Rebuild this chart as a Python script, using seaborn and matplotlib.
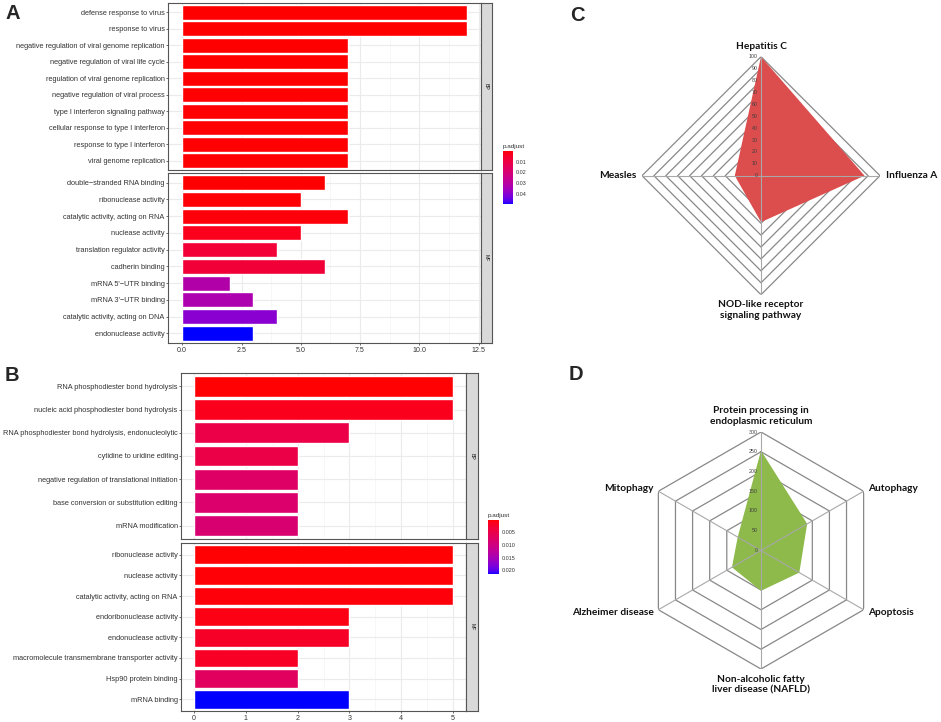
import matplotlib

matplotlib.use("Agg")
import matplotlib.pyplot as plt
import numpy as np
import pandas as pd
import seaborn as sns
from matplotlib.cm import ScalarMappable
from matplotlib.colors import ListedColormap, Normalize

W, H = 941, 722

# --- panel A: GO enrichment (clusterProfiler style barplot) ---
A_BP_TERMS = [
    "defense response to virus",
    "response to virus",
    "negative regulation of viral genome replication",
    "negative regulation of viral life cycle",
    "regulation of viral genome replication",
    "negative regulation of viral process",
    "type I interferon signaling pathway",
    "cellular response to type I interferon",
    "response to type I interferon",
    "viral genome replication",
]
A_BP_COUNT = [12, 12, 7, 7, 7, 7, 7, 7, 7, 7]
A_BP_PADJ = [0.0001, 0.0001, 0.0002, 0.0002, 0.0002, 0.0003, 0.0003, 0.0003, 0.0003, 0.0004]

A_MF_TERMS = [
    "double\u2212stranded RNA binding",
    "ribonuclease activity",
    "catalytic activity, acting on RNA",
    "nuclease activity",
    "translation regulator activity",
    "cadherin binding",
    "mRNA 5'\u2212UTR binding",
    "mRNA 3'\u2212UTR binding",
    "catalytic activity, acting on DNA",
    "endonuclease activity",
]
A_MF_COUNT = [6, 5, 7, 5, 4, 6, 2, 3, 4, 3]
A_MF_PADJ = [0.0002, 0.0005, 0.0010, 0.0030, 0.0075, 0.0078, 0.0320, 0.0330, 0.0400, 0.0496]
A_RANGE = (0.0001, 0.0496)
A_TICKS = [0.01, 0.02, 0.03, 0.04]

# --- panel B ---
B_BP_TERMS = [
    "RNA phosphodiester bond hydrolysis",
    "nucleic acid phosphodiester bond hydrolysis",
    "RNA phosphodiester bond hydrolysis, endonucleolytic",
    "cytidine to uridine editing",
    "negative regulation of translational initiation",
    "base conversion or substitution editing",
    "mRNA modification",
]
B_BP_COUNT = [5, 5, 3, 2, 2, 2, 2]
B_BP_PADJ = [0.0001, 0.0012, 0.0046, 0.0048, 0.0075, 0.0080, 0.0085]

B_MF_TERMS = [
    "ribonuclease activity",
    "nuclease activity",
    "catalytic activity, acting on RNA",
    "endoribonuclease activity",
    "endonuclease activity",
    "macromolecule transmembrane transporter activity",
    "Hsp90 protein binding",
    "mRNA binding",
]
B_MF_COUNT = [5, 5, 5, 3, 3, 2, 2, 3]
B_MF_PADJ = [0.0001, 0.0002, 0.0004, 0.0008, 0.0020, 0.0018, 0.0068, 0.0216]
B_RANGE = (0.0000, 0.0216)
B_TICKS = [0.005, 0.010, 0.015, 0.020]

# --- panel C / D: KEGG radar charts ---
C_LABELS = ["Hepatitis C", "Influenza A", "NOD-like receptor\nsignaling pathway", "Measles"]
C_VALUES = [100, 87, 39, 22]
D_LABELS = [
    "Protein processing in\nendoplasmic reticulum",
    "Autophagy",
    "Apoptosis",
    "Non-alcoholic fatty\nliver disease (NAFLD)",
    "Alzheimer disease",
    "Mitophagy",
]
D_VALUES = [253, 135, 112, 102, 85, 68]

sns.set_style("white")
plt.rcParams["font.family"] = ["Liberation Sans", "DejaVu Sans"]
TXT = "#333333"


def lab_gradient(n=256):
    """red -> blue interpolated in CIE Lab, like ggplot's continuous scale."""
    lab0 = np.array([53.24, 80.09, 67.20])
    lab1 = np.array([32.30, 79.19, -107.86])
    f = np.linspace(0, 1, n)[:, None]
    L, a, b = (lab0 + (lab1 - lab0) * f).T
    fy = (L + 16) / 116
    fx, fz = fy + a / 500, fy - b / 200

    def finv(t):
        return np.where(t**3 > 0.008856, t**3, (t - 16 / 116) / 7.787)

    X, Y, Z = 0.95047 * finv(fx), finv(fy), 1.08883 * finv(fz)
    rgb = np.stack([
        3.2406 * X - 1.5372 * Y - 0.4986 * Z,
        -0.9689 * X + 1.8758 * Y + 0.0415 * Z,
        0.0557 * X - 0.2040 * Y + 1.0570 * Z,
    ], axis=1)
    rgb = np.where(rgb <= 0.0031308, 12.92 * rgb, 1.055 * np.abs(rgb) ** (1 / 2.4) - 0.055)
    return ListedColormap(np.clip(rgb, 0, 1))


GRADIENT = lab_gradient()


def px_axes(fig, x0, y0, x1, y1, **kw):
    return fig.add_axes([x0 / W, 1 - y1 / H, (x1 - x0) / W, (y1 - y0) / H], **kw)


def bar_facet(ax, terms, counts, padj, norm, xlim, major, minor, show_x, fmt):
    df = pd.DataFrame({"term": terms, "count": counts, "p": padj})
    colors = {t: GRADIENT(norm(p)) for t, p in zip(terms, padj)}
    sns.barplot(data=df, x="count", y="term", hue="term", palette=colors,
                legend=False, width=0.9, saturation=1, ax=ax, zorder=2)
    n = len(terms)
    ax.set_ylim(n - 0.43, -0.57)
    ax.set_xlim(*xlim)
    ax.set_xticks(major)
    ax.set_xticks(minor, minor=True)
    ax.set_axisbelow(True)
    ax.grid(which="major", color="#EBEBEB", lw=0.8)
    ax.grid(which="minor", axis="x", color="#F4F4F4", lw=0.5)
    ax.set_xlabel("")
    ax.set_ylabel("")
    ax.tick_params(axis="y", length=1.6, width=0.5, color=TXT, pad=0.8,
                   labelsize=5.3, labelcolor=TXT, left=True)
    ax.tick_params(which="minor", length=0)
    if show_x:
        ax.set_xticklabels([fmt.format(v) for v in major])
        ax.tick_params(axis="x", length=1.6, width=0.5, color=TXT, pad=1.2,
                       labelsize=5.1, labelcolor=TXT, bottom=True)
    else:
        ax.tick_params(axis="x", length=0, labelbottom=False)
    for s in ax.spines.values():
        s.set_color("#555555")
        s.set_linewidth(0.8)


def strip(fig, x0, y0, x1, y1, label):
    ax = px_axes(fig, x0, y0, x1, y1)
    ax.set_facecolor("#D9D9D9")
    ax.set_xticks([])
    ax.set_yticks([])
    for s in ax.spines.values():
        s.set_color("#555555")
        s.set_linewidth(0.8)
    ax.text(0.5, 0.5, label, rotation=-90, ha="center", va="center",
            fontsize=3.8, color="#1A1A1A", transform=ax.transAxes)


def colorbar(fig, x0, y0, x1, y1, norm, ticks, fmt):
    cax = px_axes(fig, x0, y0, x1, y1)
    cb = fig.colorbar(ScalarMappable(norm=norm, cmap=GRADIENT), cax=cax, ticks=ticks)
    cb.outline.set_visible(False)
    cax.invert_yaxis()
    cax.set_yticklabels([fmt.format(t) for t in ticks])
    cax.tick_params(axis="y", direction="in", length=2, width=0.6, color="white",
                    labelsize=3.9, labelcolor=TXT, pad=2, left=True, right=True)
    cax.set_title("p.adjust", fontsize=4.6, color=TXT, loc="left", pad=2)


def radar(ax, labels, values, rmax, step, fill):
    n = len(labels)
    angles = np.arange(n) * 2 * np.pi / n
    closed = np.append(angles, angles[0])
    ax.set_theta_offset(np.pi / 2)
    ax.set_theta_direction(-1)
    ax.set_ylim(0, rmax)
    ax.axis("off")
    for r in np.arange(step, rmax + step, step):
        ax.plot(closed, [r] * (n + 1), color="#888888", lw=0.9, zorder=1)
    ax.fill(closed, np.append(values, values[0]), color=fill, lw=0, zorder=2)
    for a in angles:
        ax.plot([a, a], [0, rmax], color="#A8A8A8", lw=0.8, zorder=3)
    for r in np.arange(0, rmax + step, step):
        ax.annotate(str(r), xy=(0, r), xytext=(-2.5, 0), textcoords="offset points",
                    ha="right", va="center", fontsize=3.8, color="#404040", zorder=4)
    for a, lab in zip(angles, labels):
        sx, cy = np.sin(a), np.cos(a)
        ha = "left" if sx > 0.1 else "right" if sx < -0.1 else "center"
        va = "center"
        if abs(sx) < 0.1:
            va = "bottom" if cy > 0 else "top"
        ax.annotate(lab, xy=(a, rmax), xytext=(4 * sx, 4 * cy), textcoords="offset points",
                    ha=ha, va=va, ma="center", fontsize=7.3, fontweight="bold",
                    family=["Lato", "DejaVu Sans"], color="#111111", linespacing=1.3)


fig = plt.figure(figsize=(W / 100, H / 100), dpi=100)

# Panel A
norm_a = Normalize(*A_RANGE)
a_major = [0, 2.5, 5, 7.5, 10, 12.5]
a_minor = [1.25, 3.75, 6.25, 8.75, 11.25]
ax = px_axes(fig, 168, 3, 481, 170)
bar_facet(ax, A_BP_TERMS, A_BP_COUNT, A_BP_PADJ, norm_a, (-0.6, 12.6), a_major, a_minor, False, "{:.1f}")
strip(fig, 481, 3, 492, 170, "BP")
ax = px_axes(fig, 168, 173, 481, 343)
bar_facet(ax, A_MF_TERMS, A_MF_COUNT, A_MF_PADJ, norm_a, (-0.6, 12.6), a_major, a_minor, True, "{:.1f}")
strip(fig, 481, 173, 492, 343, "MF")
colorbar(fig, 503, 151, 513, 204, norm_a, A_TICKS, "{:.2f}")

# Panel B
norm_b = Normalize(*B_RANGE)
b_major = [0, 1, 2, 3, 4, 5]
b_minor = [0.5, 1.5, 2.5, 3.5, 4.5]
ax = px_axes(fig, 181, 373, 466, 539)
bar_facet(ax, B_BP_TERMS, B_BP_COUNT, B_BP_PADJ, norm_b, (-0.25, 5.25), b_major, b_minor, False, "{:d}")
strip(fig, 466, 373, 478, 539, "BP")
ax = px_axes(fig, 181, 543, 466, 711)
bar_facet(ax, B_MF_TERMS, B_MF_COUNT, B_MF_PADJ, norm_b, (-0.25, 5.25), b_major, b_minor, True, "{:d}")
strip(fig, 466, 543, 478, 711, "MF")
colorbar(fig, 488, 520, 499, 574, norm_b, B_TICKS, "{:.3f}")

# Panel C / D radars
ax = px_axes(fig, 761 - 119, 175.7 - 119, 761 + 119, 175.7 + 119, projection="polar")
radar(ax, C_LABELS, C_VALUES, 100, 10, "#DC4D4D")
ax = px_axes(fig, 761 - 118.5, 550.5 - 118.5, 761 + 118.5, 550.5 + 118.5, projection="polar")
radar(ax, D_LABELS, D_VALUES, 300, 50, "#8DBA4A")

for lab, x, y in [("A", 5, 4), ("B", 5, 366), ("C", 570, 6), ("D", 569, 365)]:
    fig.text(x / W, 1 - y / H, lab, fontsize=14.5, fontweight="bold", ha="left", va="top")

fig.savefig("out.png", dpi=100)
